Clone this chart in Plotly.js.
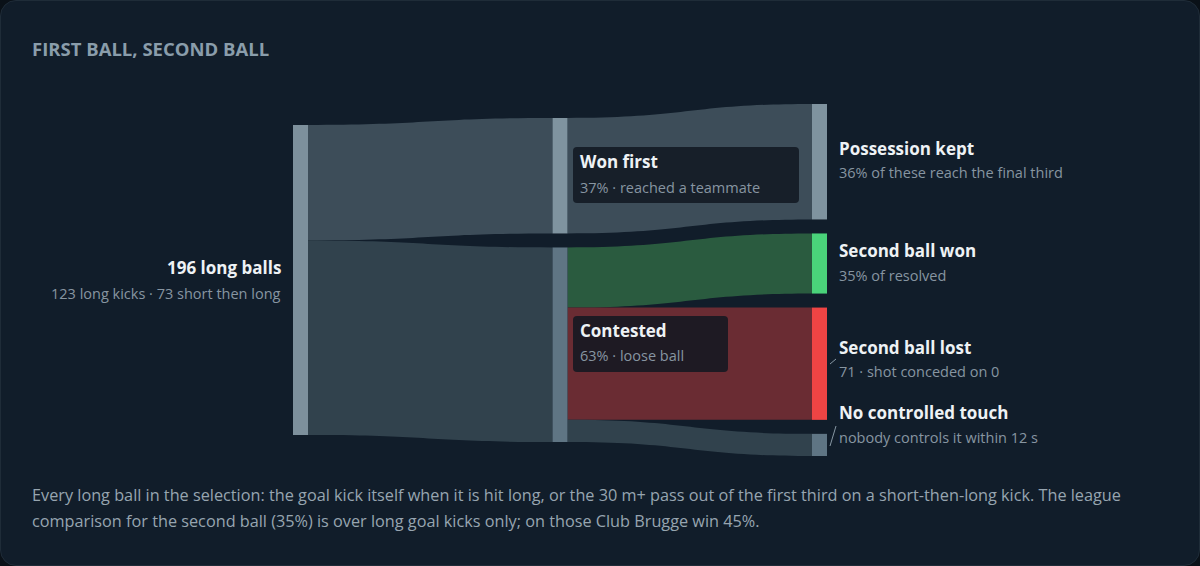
<!DOCTYPE html>
<html>
<head>
<meta charset="utf-8">
<script src="https://cdn.plot.ly/plotly-3.0.1.min.js"></script>
<style>
  html, body { margin: 0; padding: 0; background: #0a1118; }
  #card { position: absolute; left: 0; top: 0; width: 1200px; height: 566px; box-sizing: border-box;
          border: 1px solid #1f2c38; border-radius: 16px; background: #111d2a; }
  #plot { position: absolute; left: 0; top: 0; width: 1200px; height: 566px; }
</style>
</head>
<body>
<div id="card"></div>
<div id="plot"></div>
<script>
// ---- data ----
const chartTitle = 'FIRST BALL, SECOND BALL';
const nodeTitles = ['196 long balls', 'Won first', 'Contested', 'Possession kept', 'Second ball won', 'Second ball lost', 'No controlled touch'];
const nodeSubtitles = ['123 long kicks · 73 short then long', '37% · reached a teammate', '63% · loose ball',
  '36% of these reach the final third', '35% of resolved', '71 · shot conceded on 0', 'nobody controls it within 12 s'];
const nodeColumn = [0, 1, 1, 2, 2, 2, 2];
const linkSource = [0, 0, 1, 2, 2, 2];
const linkTarget = [1, 2, 3, 4, 5, 6];
const linkValue = [73, 123, 73, 38, 71, 14];
const footnoteLines = [
  'Every long ball in the selection: the goal kick itself when it is hit long, or the 30 m+ pass out of the first third on a short-then-long kick. The league',
  'comparison for the second ball (35%) is over long goal kicks only; on those Club Brugge win 45%.'
];

// ---- style ----
const W = 1200, H = 566;
const nodeColors = ['#7d909c', '#7f939f', '#5f7584', '#7f939f', '#4ad37a', '#ef4444', '#5f7584'];
const linkColors = ['#3d4d59', '#31424d', '#3d4d59', '#2a5b3f', '#6a2c33', '#31424d'];
const FONT = '"Open Sans", Lato, sans-serif';
const px = x => x / W;
const py = y => 1 - y / H;

// sankey frame (pixels)
const SX0 = 293, SX1 = 827, SY0 = 104, SY1 = 456, PAD = 14, THICK = 15;
const Wd = SX1 - SX0, Hd = SY1 - SY0;

// node values from links
const nodeValue = nodeTitles.map((_, i) => {
  const out = linkValue.filter((v, k) => linkSource[k] === i).reduce((a, b) => a + b, 0);
  const inn = linkValue.filter((v, k) => linkTarget[k] === i).reduce((a, b) => a + b, 0);
  return Math.max(out, inn);
});
// keep the original top-to-bottom order in each column, centred like d3-sankey
const nCols = Math.max(...nodeColumn) + 1;
const cols = [...Array(nCols)].map((_, c) => nodeTitles.map((_, i) => i).filter(i => nodeColumn[i] === c));
const ky = Math.min(...cols.map(c => (Hd - (c.length - 1) * PAD) / c.reduce((a, i) => a + nodeValue[i], 0)));
const nodeX = [], nodeY = [];
cols.forEach((c, ci) => {
  const total = c.reduce((a, i) => a + nodeValue[i] * ky, 0) + (c.length - 1) * PAD;
  let y = (Hd - total) / 2;
  c.forEach(i => {
    const h = nodeValue[i] * ky;
    nodeY[i] = (y + h / 2) / Hd;
    nodeX[i] = (THICK / 2 + ci * (Wd - THICK) / (nCols - 1)) / Wd;
    y += h + PAD;
  });
});

const trace = {
  type: 'sankey',
  orientation: 'h',
  arrangement: 'fixed',
  hoverinfo: 'none',
  domain: { x: [px(SX0), px(SX1)], y: [py(SY1), py(SY0)] },
  node: {
    pad: PAD,
    thickness: THICK,
    label: nodeTitles,
    x: nodeX,
    y: nodeY,
    color: nodeColors,
    line: { width: 0 },
    hoverinfo: 'none'
  },
  link: {
    source: linkSource,
    target: linkTarget,
    value: linkValue,
    color: linkColors,
    line: { width: 0 },
    hoverinfo: 'none'
  },
  textfont: { color: 'rgba(0,0,0,0)', size: 1 }
};

// label placement (layout)
const labelPos = [
  { x: 283, t: 267, s: 293, anchor: 'right' },
  { x: 578, t: 161, s: 187, anchor: 'left' },
  { x: 578, t: 330, s: 355, anchor: 'left' },
  { x: 837, t: 148, s: 173, anchor: 'left' },
  { x: 837, t: 250, s: 275, anchor: 'left' },
  { x: 837, t: 347, s: 371, anchor: 'left' },
  { x: 837, t: 412, s: 437, anchor: 'left' }
];

const annotations = [];
nodeTitles.forEach((t, i) => {
  const p = labelPos[i];
  annotations.push({ xref: 'paper', yref: 'paper', x: px(p.x), y: py(p.t), xanchor: p.anchor, yanchor: 'middle',
    text: '<b>' + t + '</b>', showarrow: false, font: { family: FONT, size: 17, color: '#eef2f5' } });
  annotations.push({ xref: 'paper', yref: 'paper', x: px(p.x), y: py(p.s), xanchor: p.anchor, yanchor: 'middle',
    text: nodeSubtitles[i], showarrow: false, font: { family: FONT, size: 14.5, color: '#8795a1' } });
});
annotations.push({ xref: 'paper', yref: 'paper', x: px(30), y: py(49), xanchor: 'left', yanchor: 'middle',
  text: '<b>' + chartTitle + '</b>', showarrow: false, font: { family: FONT, size: 18.5, color: '#8a9dab' } });
footnoteLines.forEach((l, i) => {
  annotations.push({ xref: 'paper', yref: 'paper', x: px(30), y: py(495 + i * 26), xanchor: 'left', yanchor: 'middle',
    text: l, showarrow: false, font: { family: FONT, size: 16.25, color: '#97a5b0' } });
});

function roundRect(x0, y0, x1, y1, r) {
  const X0 = px(x0), X1 = px(x1), Y0 = py(y0), Y1 = py(y1);
  const rx = r / W, ry = r / H;
  return `M ${X0 + rx} ${Y0} L ${X1 - rx} ${Y0} Q ${X1} ${Y0} ${X1} ${Y0 - ry} L ${X1} ${Y1 + ry} Q ${X1} ${Y1} ${X1 - rx} ${Y1} ` +
         `L ${X0 + rx} ${Y1} Q ${X0} ${Y1} ${X0} ${Y1 + ry} L ${X0} ${Y0 - ry} Q ${X0} ${Y0} ${X0 + rx} ${Y0} Z`;
}

const shapes = [
  { type: 'path', xref: 'paper', yref: 'paper', layer: 'above', path: roundRect(573, 147, 799, 203, 4),
    fillcolor: 'rgba(17,24,33,0.85)', line: { width: 0 } },
  { type: 'path', xref: 'paper', yref: 'paper', layer: 'above', path: roundRect(573, 316, 728, 372, 4),
    fillcolor: 'rgba(17,24,33,0.85)', line: { width: 0 } },
  { type: 'line', xref: 'paper', yref: 'paper', x0: px(830), y0: py(364), x1: px(836), y1: py(359),
    line: { color: '#8797a3', width: 1 } },
  { type: 'line', xref: 'paper', yref: 'paper', x0: px(830), y0: py(446), x1: px(836), y1: py(426),
    line: { color: '#8797a3', width: 1 } }
];

const layout = {
  width: W, height: H,
  margin: { l: 0, r: 0, t: 0, b: 0 },
  paper_bgcolor: 'rgba(0,0,0,0)',
  plot_bgcolor: 'rgba(0,0,0,0)',
  font: { family: FONT },
  annotations: annotations,
  shapes: shapes,
  showlegend: false
};

Plotly.newPlot('plot', [trace], layout, { displayModeBar: false, staticPlot: true });
</script>
</body>
</html>
